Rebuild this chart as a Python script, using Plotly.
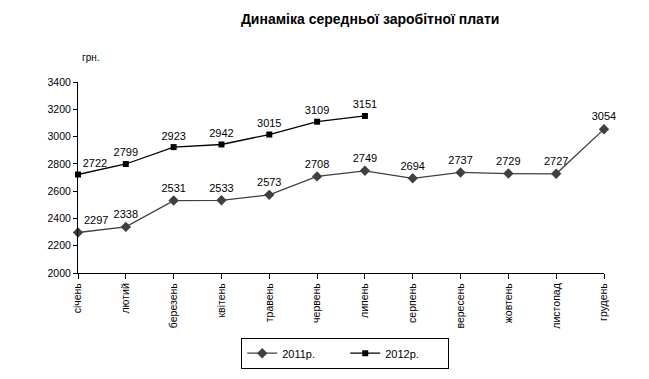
import plotly.graph_objects as go

months = ["січень", "лютий", "березень", "квітень", "травень", "червень",
          "липень", "серпень", "вересень", "жовтень", "листопад", "грудень"]
y2011 = [2297, 2338, 2531, 2533, 2573, 2708, 2749, 2694, 2737, 2729, 2727, 3054]
y2012 = [2722, 2799, 2923, 2942, 3015, 3109, 3151]
yticks = [2000, 2200, 2400, 2600, 2800, 3000, 3200, 3400]

font = "Liberation Sans, Arial, sans-serif"
x11 = list(range(len(y2011)))
x12 = list(range(len(y2012)))

fig = go.Figure()
fig.add_trace(go.Scatter(
    x=x11, y=y2011, name="2011р.", mode="lines+markers+text",
    line=dict(color="#404040", width=1.3),
    marker=dict(symbol="diamond", size=8, color="#404040"),
    text=[str(v) for v in y2011],
    textposition=["top right"] + ["top center"] * 11,
    textfont=dict(family=font, size=11, color="#000"),
    cliponaxis=False,
))
fig.add_trace(go.Scatter(
    x=x12, y=y2012, name="2012р.", mode="lines+markers+text",
    line=dict(color="#000000", width=1.3),
    marker=dict(symbol="square", size=6, color="#000000"),
    text=[str(v) for v in y2012],
    textposition=["top right"] + ["top center"] * 6,
    textfont=dict(family=font, size=11, color="#000"),
    cliponaxis=False,
))

fig.update_layout(
    width=649, height=379,
    margin=dict(l=70, r=53, t=74, b=114, autoexpand=False),
    paper_bgcolor="white", plot_bgcolor="white",
    font=dict(family=font, size=10, color="#000"),
    title=dict(text="<b>Динаміка середньої заробітної плати</b>",
               x=0.558, xanchor="center", y=0.97, yanchor="middle",
               font=dict(size=14, family=font)),
    showlegend=True,
    legend=dict(orientation="h", x=0.508, xanchor="center", y=-0.42, yanchor="middle",
                bordercolor="#000", borderwidth=1, font=dict(size=11),
                itemwidth=30, entrywidth=58, tracegroupgap=0),
    annotations=[dict(text="грн.", xref="paper", yref="paper", x=0.004, y=1.126,
                      xanchor="left", yanchor="middle", showarrow=False,
                      font=dict(size=10))],
)
fig.update_xaxes(
    tickmode="array", tickvals=x11, ticktext=months, tickangle=-90,
    range=[0, 11], showgrid=False, zeroline=False, automargin=False,
    showline=True, linecolor="#000", linewidth=1,
    ticks="outside", ticklen=5, tickcolor="#000", tickfont=dict(size=10.5),
)
fig.update_yaxes(
    tickmode="array", tickvals=yticks, range=[2000, 3400],
    showgrid=False, zeroline=False, automargin=False,
    showline=True, linecolor="#000", linewidth=1,
    ticks="outside", ticklen=4, tickcolor="#000", tickfont=dict(size=10.5),
)

fig.write_html("out.html")
